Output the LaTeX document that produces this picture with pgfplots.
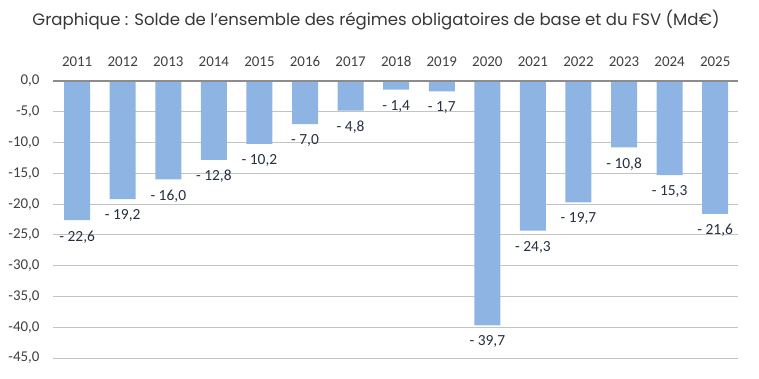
\documentclass[border=0pt]{standalone}
\usepackage{pgfplots}
\pgfplotsset{compat=1.18}
\usepackage{fontspec}
\setmainfont{Carlito}
\newfontfamily\titlefont{Poppins}
\definecolor{barblue}{RGB}{142,180,227}
\definecolor{ticktxt}{RGB}{64,64,64}
\definecolor{lbltxt}{RGB}{38,48,64}
\definecolor{gridc}{RGB}{195,195,195}
\begin{document}
\begin{tikzpicture}
\begin{axis}[
  scale only axis, width=685bp, height=277bp,
  xmin=-0.53, xmax=14.5, ymin=-45, ymax=0,
  ybar, bar width=26bp,
  axis line style={draw=none}, tick style={draw=none},
  xtick={0,...,14},
  xticklabels={2011,2012,2013,2014,2015,2016,2017,2018,2019,2020,2021,2022,2023,2024,2025},
  xticklabel pos=upper,
  xticklabel style={font=\fontsize{15}{17}\selectfont, text=ticktxt, yshift=7bp},
  ytick={-45,-40,...,0},
  yticklabel style={font=\fontsize{15}{17}\selectfont, text=ticktxt, xshift=-10bp},
  /pgf/number format/.cd, fixed, fixed zerofill, precision=1, use comma, assume math mode=true,
  /pgfplots/.cd,
  ymajorgrids, grid style={gridc, line width=0.8bp},
  point meta=explicit,
  nodes near coords={-\ \pgfmathprintnumber[fixed,fixed zerofill,precision=1,use comma,assume math mode=true]{\pgfplotspointmeta}},
  nodes near coords style={font=\fontsize{15.5}{17}\selectfont, text=lbltxt, anchor=north, yshift=-7bp},
]
\addplot[fill=barblue, draw=none] coordinates {
(0,-22.6) [22.6] (1,-19.2) [19.2] (2,-16.0) [16.0] (3,-12.8) [12.8] (4,-10.2) [10.2]
(5,-7.0) [7.0] (6,-4.8) [4.8] (7,-1.4) [1.4] (8,-1.7) [1.7] (9,-39.7) [39.7]
(10,-24.3) [24.3] (11,-19.7) [19.7] (12,-10.8) [10.8] (13,-15.3) [15.3] (14,-21.6) [21.6]};
\coordinate (sw) at (rel axis cs:0,0);
\coordinate (nw) at (rel axis cs:0,1);
\coordinate (ne) at (rel axis cs:1,1);
\end{axis}
\draw[draw={rgb,255:red,140;green,140;blue,140}, line width=1.2bp] (nw) -- (ne);
\pgfresetboundingbox
\path (sw) ++(-53bp,-21bp) rectangle ++(759bp,379bp);
\node[font=\titlefont\fontsize{16.6}{18}\selectfont, text={rgb,255:red,55;green,55;blue,55}] at ([shift={(323bp,338bp)}]sw) {Graphique : Solde de l’ensemble des régimes obligatoires de base et du FSV (Md€)};
\end{tikzpicture}
\end{document}
